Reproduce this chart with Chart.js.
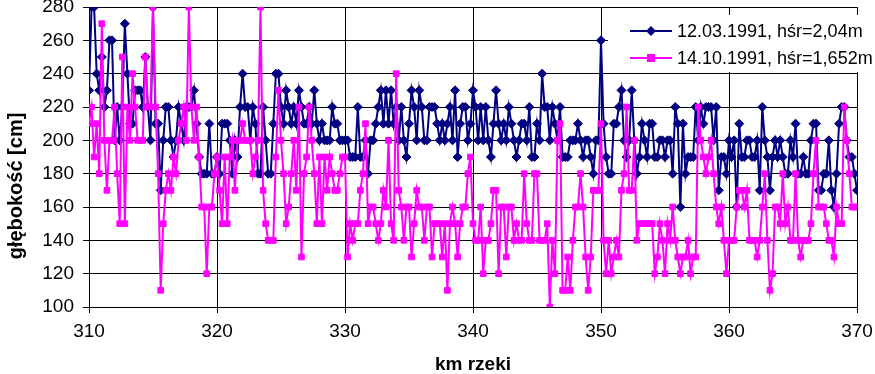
<!DOCTYPE html>
<html>
<head>
<meta charset="utf-8">
<script src="https://cdn.jsdelivr.net/npm/chart.js@4.4.1/dist/chart.umd.min.js"></script>
<style>
  html, body { margin: 0; padding: 0; background: #fff; }
  #wrap { width: 875px; height: 374px; }
</style>
</head>
<body>
<div id="wrap"><canvas id="chart" width="875" height="374"></canvas></div>
<script>
// km of river, one reading every 0.2 km from 310 to 370
const kmStart = 310;
const kmStep = 0.2;

const seriesNames = ['12.03.1991, hśr=2,04m', '14.10.1991, hśr=1,652m'];

// depth [cm], 12.03.1991 (rows of 2 km)
const depthMarch = [
    230, 280, 280, 240, 230, 250, 220, 230, 260, 260,
    200, 220, 200, 220, 270, 240, 210, 210, 230, 230,
    230, 220, 250, 220, 200, 280, 210, 210, 170, 200,
    220, 220, 200, 190, 200, 220, 210, 200, 220, 220,
    220, 230, 210, 190, 180, 180, 180, 210, 180, 180,
    190, 180, 210, 210, 210, 200, 180, 200, 190, 220,
    240, 220, 220, 200, 220, 210, 180, 180, 220, 200,
    180, 180, 210, 240, 240, 220, 210, 230, 220, 210,
    220, 210, 230, 220, 210, 210, 220, 210, 230, 210,
    200, 210, 200, 200, 200, 220, 210, 210, 200, 200,
    200, 200, 190, 190, 190, 220, 190, 190, 200, 180,
    200, 200, 210, 220, 230, 210, 230, 210, 230, 210,
    220, 200, 220, 200, 190, 210, 230, 220, 200, 230,
    220, 200, 200, 220, 220, 220, 210, 200, 210, 200,
    210, 220, 200, 230, 190, 210, 220, 220, 200, 210,
    230, 220, 200, 220, 200, 220, 200, 190, 210, 230,
    210, 200, 210, 200, 220, 210, 200, 190, 200, 210,
    210, 200, 220, 190, 190, 210, 200, 240, 220, 220,
    200, 220, 210, 200, 220, 190, 190, 190, 200, 200,
    200, 210, 200, 190, 200, 200, 190, 180, 200, 200,
    260, 210, 190, 180, 180, 210, 210, 220, 230, 200,
    190, 200, 230, 200, 180, 190, 210, 200, 190, 210,
    210, 190, 190, 200, 200, 190, 200, 200, 180, 220,
    210, 160, 210, 180, 190, 190, 190, 220, 200, 220,
    210, 220, 220, 220, 200, 220, 170, 190, 190, 180,
    200, 190, 200, 160, 210, 190, 190, 200, 200, 190,
    190, 200, 170, 220, 200, 190, 170, 190, 200, 190,
    200, 190, 180, 180, 200, 190, 210, 180, 180, 190,
    180, 180, 200, 210, 210, 170, 170, 180, 180, 200,
    170, 160, 180, 210, 220, 220, 200, 190, 190, 180,
    170
];

// depth [cm], 14.10.1991 (rows of 2 km)
const depthOctober = [
    210, 220, 190, 210, 180, 270, 200, 170, 200, 200,
    220, 180, 150, 250, 150, 220, 200, 240, 220, 200,
    200, 200, 250, 220, 220, 280, 220, 180, 110, 150,
    170, 180, 170, 190, 180, 200, 210, 220, 200, 280,
    220, 200, 220, 190, 160, 160, 120, 160, 160, 180,
    190, 170, 150, 190, 150, 190, 200, 170, 200, 200,
    210, 200, 200, 200, 180, 190, 200, 280, 170, 150,
    140, 140, 140, 190, 230, 200, 180, 150, 160, 180,
    200, 170, 220, 130, 180, 190, 220, 200, 180, 150,
    190, 150, 190, 170, 190, 180, 170, 170, 180, 190,
    190, 130, 150, 140, 150, 150, 170, 180, 210, 150,
    160, 160, 150, 140, 150, 170, 160, 200, 150, 140,
    240, 170, 160, 140, 160, 160, 130, 150, 170, 160,
    160, 140, 160, 160, 130, 150, 150, 150, 130, 150,
    110, 150, 160, 150, 130, 150, 160, 160, 180, 190,
    150, 140, 140, 160, 120, 140, 140, 150, 170, 170,
    120, 160, 160, 130, 160, 160, 140, 150, 140, 140,
    180, 150, 140, 140, 180, 180, 140, 140, 140, 150,
    100, 140, 120, 200, 210, 110, 110, 130, 110, 140,
    160, 160, 180, 160, 130, 110, 130, 170, 170, 170,
    210, 140, 120, 140, 120, 130, 140, 130, 170, 180,
    220, 170, 170, 200, 140, 150, 150, 150, 150, 150,
    150, 120, 130, 150, 140, 120, 150, 140, 160, 140,
    130, 120, 130, 130, 140, 120, 130, 130, 220, 200,
    190, 180, 190, 200, 180, 160, 150, 160, 140, 120,
    140, 140, 140, 160, 170, 170, 160, 170, 140, 140,
    140, 130, 140, 160, 180, 140, 110, 120, 160, 160,
    150, 180, 150, 160, 140, 140, 180, 140, 130, 140,
    140, 140, 150, 180, 200, 160, 160, 160, 150, 140,
    140, 130, 160, 150, 150, 220, 200, 180, 160, 160,
    160
];

const colors = ['#000080', '#FF00FF'];

function toPoints(values) {
    return values.map((v, i) => ({ x: Math.round((kmStart + i * kmStep) * 10) / 10, y: v }));
}

// titles + legend box drawn on top, like the Excel original
const overlay = {
    id: 'overlay',
    afterDraw(chart) {
        const ctx = chart.ctx;
        ctx.save();

        // legend box (white, covers the grid)
        ctx.fillStyle = '#fff';
        ctx.fillRect(608, 15, 267, 57);
        const rows = [31, 58];
        rows.forEach((y, i) => {
            ctx.strokeStyle = colors[i];
            ctx.lineWidth = 2;
            ctx.beginPath();
            ctx.moveTo(630, y);
            ctx.lineTo(672, y);
            ctx.stroke();
            ctx.fillStyle = colors[i];
            ctx.beginPath();
            if (i === 0) {
                ctx.moveTo(651, y - 5);
                ctx.lineTo(656, y);
                ctx.lineTo(651, y + 5);
                ctx.lineTo(646, y);
                ctx.closePath();
            } else {
                ctx.rect(647, y - 4, 8, 8);
            }
            ctx.fill();
            ctx.fillStyle = '#000';
            ctx.font = '18px "Liberation Sans", Arial, sans-serif';
            ctx.textAlign = 'left';
            ctx.textBaseline = 'middle';
            ctx.fillText(seriesNames[i], 677, y + 1);
        });

        // axis titles
        ctx.fillStyle = '#000';
        ctx.font = 'bold 19px "Liberation Sans", Arial, sans-serif';
        ctx.textAlign = 'center';
        ctx.textBaseline = 'middle';
        ctx.fillText('km rzeki', 473, 365);

        ctx.translate(16, 186);
        ctx.rotate(-Math.PI / 2);
        ctx.font = 'bold 20px "Liberation Sans", Arial, sans-serif';
        ctx.fillText('głębokość [cm]', 0, 0);
        ctx.restore();
    }
};

const ctx = document.getElementById('chart');

new Chart(ctx, {
    type: 'line',
    data: {
        datasets: [
            {
                label: seriesNames[0],
                data: toPoints(depthMarch),
                borderColor: colors[0],
                backgroundColor: colors[0],
                borderWidth: 2,
                pointStyle: 'rectRot',
                pointRadius: 4.5,
                pointBorderWidth: 1,
                tension: 0,
                order: 1
            },
            {
                label: seriesNames[1],
                data: toPoints(depthOctober),
                borderColor: colors[1],
                backgroundColor: colors[1],
                borderWidth: 2,
                pointStyle: 'rect',
                pointRadius: 4,
                pointBorderWidth: 1,
                tension: 0,
                order: 0
            }
        ]
    },
    options: {
        responsive: false,
        animation: false,
        events: [],
        layout: {
            padding: { top: 7, right: 18, left: 0, bottom: 0 }
        },
        plugins: {
            legend: { display: false },
            tooltip: { enabled: false },
            title: { display: false }
        },
        scales: {
            x: {
                type: 'linear',
                min: 310,
                max: 370,
                ticks: {
                    stepSize: 10,
                    color: '#000',
                    padding: 7,
                    maxRotation: 0,
                    font: { family: '"Liberation Sans", Arial, sans-serif', size: 19 }
                },
                grid: {
                    color: '#000',
                    lineWidth: 1,
                    tickLength: 6
                },
                border: { color: '#000', width: 1 },
                afterFit(scale) {
                    scale.height = 67;
                    scale.paddingLeft = 0;
                    scale.paddingRight = 0;
                }
            },
            y: {
                type: 'linear',
                min: 100,
                max: 280,
                ticks: {
                    stepSize: 20,
                    color: '#000',
                    padding: 9,
                    font: { family: '"Liberation Sans", Arial, sans-serif', size: 19 }
                },
                grid: {
                    color: '#000',
                    lineWidth: 1,
                    tickLength: 6
                },
                border: { color: '#000', width: 1 },
                afterFit(scale) {
                    scale.width = 89;
                    scale.paddingTop = 0;
                    scale.paddingBottom = 0;
                }
            }
        }
    },
    plugins: [overlay]
});
</script>
</body>
</html>
